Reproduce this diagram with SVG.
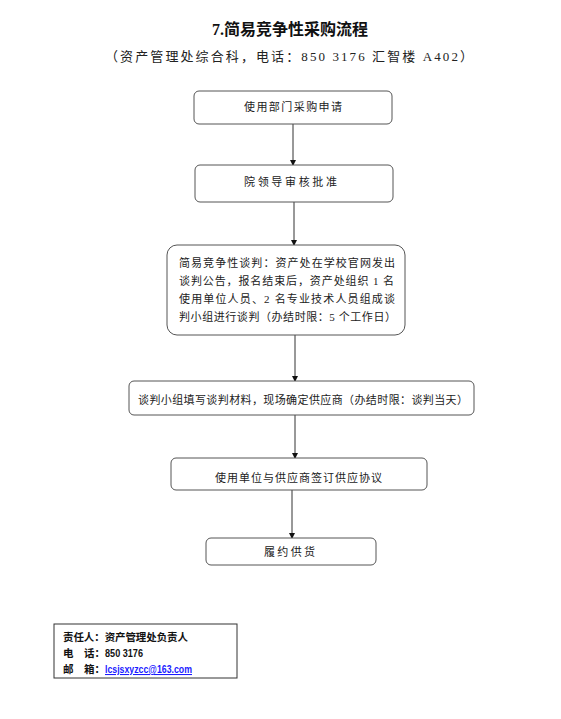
<svg xmlns="http://www.w3.org/2000/svg" width="561" height="719" viewBox="0 0 561 719">
<style>
.box{fill:#fff;stroke:#555;stroke-width:1}
.t{font-family:"Liberation Serif","Noto Sans CJK SC",serif;font-size:11px;fill:#222}
.title{font-family:"Liberation Serif","Noto Sans CJK SC",serif;font-size:16px;font-weight:bold;fill:#111}
.sub{font-family:"Liberation Serif","Noto Sans CJK SC",serif;font-size:13px;fill:#222}
.f{font-family:"Liberation Sans","Noto Sans CJK SC",sans-serif;font-size:10.5px;font-weight:bold;fill:#111}
.con{stroke:#333;stroke-width:1;fill:none;marker-end:url(#ah)}
</style>
<defs>
<marker id="ah" markerWidth="6" markerHeight="6" refX="5" refY="3" orient="auto" markerUnits="userSpaceOnUse">
<path d="M0,0 L6,3 L0,6 Z" fill="#111"/>
</marker>
</defs>
<rect width="561" height="719" fill="#fff"/>
<text class="title" x="290" y="35" text-anchor="middle" textLength="156" lengthAdjust="spacingAndGlyphs">7.简易竞争性采购流程</text>
<text class="sub" x="105" y="61" textLength="368" lengthAdjust="spacing">（资产管理处综合科，电话：850 3176 汇智楼 A402）</text>

<g id="connectors">
<line class="con" x1="293" y1="124" x2="293" y2="165"/>
<line class="con" x1="294" y1="202" x2="294" y2="245"/>
<line class="con" x1="295" y1="335" x2="295" y2="381"/>
<line class="con" x1="295" y1="415" x2="295" y2="458"/>
<line class="con" x1="292" y1="490" x2="292" y2="538"/>
</g>

<g id="n1">
<rect class="box" x="194" y="91" width="198" height="33" rx="5"/>
<text class="t" x="244" y="111" textLength="98" lengthAdjust="spacing">使用部门采购申请</text>
</g>
<g id="n2">
<rect class="box" x="195" y="165" width="198" height="37" rx="5"/>
<text class="t" x="244" y="186" textLength="93" lengthAdjust="spacing">院领导审核批准</text>
</g>
<g id="n3">
<rect class="box" x="167" y="245" width="238" height="90" rx="10"/>
<text class="t" x="179" y="267" textLength="216" lengthAdjust="spacing">简易竞争性谈判：资产处在学校官网发出</text>
<text class="t" x="179" y="285" textLength="215" lengthAdjust="spacing">谈判公告，报名结束后，资产处组织 1 名</text>
<text class="t" x="179" y="303" textLength="216" lengthAdjust="spacing">使用单位人员、2 名专业技术人员组成谈</text>
<text class="t" x="179" y="321" textLength="217" lengthAdjust="spacing">判小组进行谈判（办结时限：5 个工作日）</text>
</g>
<g id="n4">
<rect class="box" x="129" y="381" width="345" height="34" rx="5"/>
<text class="t" x="138" y="404" textLength="330" lengthAdjust="spacing">谈判小组填写谈判材料，现场确定供应商（办结时限：谈判当天）</text>
</g>
<g id="n5">
<rect class="box" x="171" y="458" width="256" height="32" rx="5"/>
<text class="t" x="215" y="482" textLength="167" lengthAdjust="spacing">使用单位与供应商签订供应协议</text>
</g>
<g id="n6">
<rect class="box" x="206" y="538" width="170" height="27" rx="5"/>
<text class="t" x="264" y="556" textLength="51" lengthAdjust="spacing">履约供货</text>
</g>

<g id="footer">
<rect x="54" y="624" width="183" height="54" fill="#fff" stroke="#333" stroke-width="1"/>
<text class="f" x="63" y="641" textLength="125" lengthAdjust="spacing">责任人：资产管理处负责人</text>
<text class="f" x="63" y="657">电</text>
<text class="f" x="84" y="657">话：</text>
<text class="f" x="105" y="657" textLength="38" lengthAdjust="spacingAndGlyphs">850 3176</text>
<text class="f" x="63" y="673">邮</text>
<text class="f" x="84" y="673">箱：</text>
<text class="f" x="105" y="673" style="fill:#1a1aff;text-decoration:underline" textLength="87" lengthAdjust="spacingAndGlyphs">lcsjsxyzcc@163.com</text>
</g>
</svg>
